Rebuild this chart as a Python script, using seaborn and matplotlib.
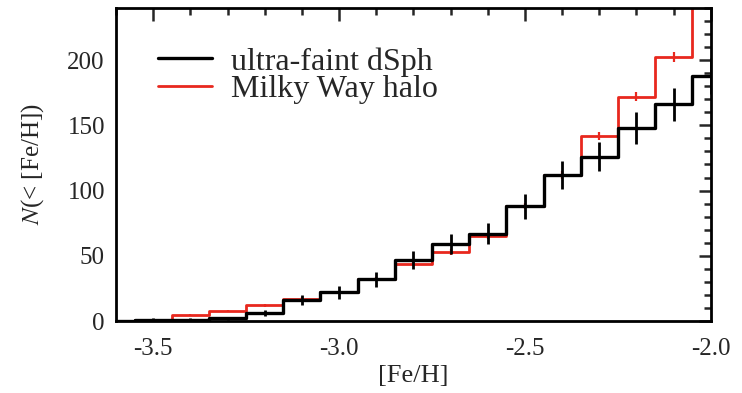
import numpy as np
import pandas as pd
import matplotlib
matplotlib.use("Agg")
import matplotlib.pyplot as plt
import seaborn as sns
from matplotlib.ticker import MultipleLocator

# ---- data ----
feh = [-3.6, -3.5, -3.4, -3.3, -3.2, -3.1, -3.0, -2.9, -2.8, -2.7, -2.6, -2.5, -2.4, -2.3, -2.2, -2.1, -2.0]
ufd_counts = [0, 1, 1, 2, 6, 16, 22, 32, 47, 59, 67, 88, 112, 126, 148, 166, 188]
ufd_err = [0, 1, 1, 1.4, 2.4, 4.0, 4.7, 5.7, 6.9, 7.7, 8.2, 9.4, 10.6, 11.2, 12.2, 12.9, 13.7]
mw_counts = [0, 1, 5, 8, 12, 17, 22, 32, 44, 53, 65, 88, 112, 142, 172, 202, 260]
mw_err = [0, 0.3, 0.6, 0.8, 0.9, 1.1, 1.3, 1.5, 1.8, 2.0, 2.2, 2.5, 2.8, 3.2, 3.5, 3.8, 4.4]
labels = ["ultra-faint dSph", "Milky Way halo"]
colors = ["black", "#e8281e"]

sns.set_style("white")
plt.rcParams["font.family"] = ["Liberation Serif", "DejaVu Serif"]
plt.rcParams["mathtext.fontset"] = "stix"

fig = plt.figure(figsize=(7.42, 3.93), dpi=100)
ax = fig.add_axes([0.1563, 0.183, 0.8017, 0.797])

df = pd.DataFrame({
    "feh": feh * 2,
    "N": ufd_counts + mw_counts,
    "sample": [labels[0]] * len(feh) + [labels[1]] * len(feh),
})

# Milky Way halo first (underneath), then ultra-faint on top
sns.lineplot(data=df[df["sample"] == labels[1]], x="feh", y="N", color=colors[1],
             drawstyle="steps-mid", lw=2.0, ax=ax, label=labels[1], zorder=2)
ax.errorbar(feh, mw_counts, yerr=mw_err, fmt="none", ecolor=colors[1], elinewidth=1.6,
            capsize=0, zorder=2)
sns.lineplot(data=df[df["sample"] == labels[0]], x="feh", y="N", color=colors[0],
             drawstyle="steps-mid", lw=2.4, ax=ax, label=labels[0], zorder=3)
ax.errorbar(feh, ufd_counts, yerr=ufd_err, fmt="none", ecolor=colors[0], elinewidth=2.0,
            capsize=0, zorder=3)

ax.set_xlim(-3.6, -2.0)
ax.set_ylim(0, 240)
ax.xaxis.set_major_locator(MultipleLocator(0.5))
ax.xaxis.set_minor_locator(MultipleLocator(0.1))
ax.yaxis.set_major_locator(MultipleLocator(50))
ax.yaxis.set_minor_locator(MultipleLocator(10))
ax.xaxis.set_major_formatter(matplotlib.ticker.FormatStrFormatter("%.1f"))
ax.tick_params(which="both", direction="in", top=True, right=True, width=1.8,
               labelsize=18)
ax.tick_params(axis="x", which="major", pad=12)
ax.tick_params(axis="y", which="major", pad=8)
ax.tick_params(which="major", length=9)
ax.tick_params(which="minor", length=5)
for s in ax.spines.values():
    s.set_linewidth(2.0)
    s.set_color("black")

ax.set_xlabel("[Fe/H]", fontsize=19, labelpad=4)
ax.set_ylabel("$N$(< [Fe/H])", fontsize=18)
ax.yaxis.set_label_coords(-0.118, 0.5)

h, l = ax.get_legend_handles_labels()
order = [l.index(labels[0]), l.index(labels[1])]
ax.legend([h[i] for i in order], [l[i] for i in order], loc="upper left",
          bbox_to_anchor=(0.07, 0.875), frameon=False, fontsize=23,
          handlelength=1.7, handletextpad=0.6, labelspacing=-0.05, borderpad=0,
          borderaxespad=0)

fig.savefig("out.png", dpi=100)
